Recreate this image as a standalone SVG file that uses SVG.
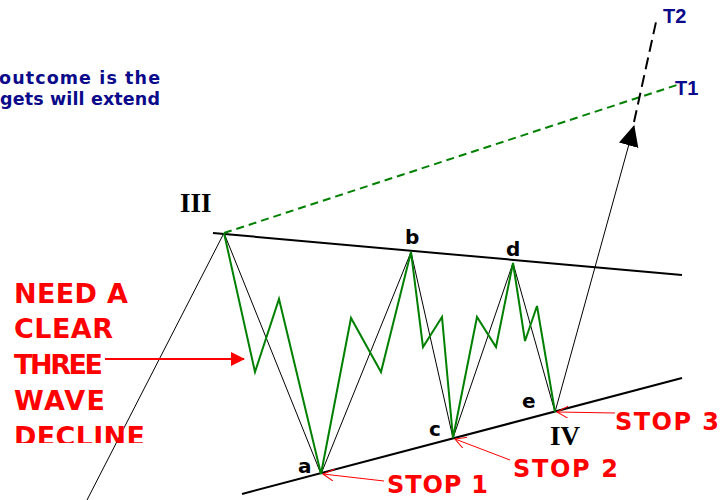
<svg xmlns="http://www.w3.org/2000/svg" width="724" height="500" viewBox="0 0 724 500">
<style>
.thin{fill:none;stroke:#000;stroke-width:1}
.chan{fill:none;stroke:#000;stroke-width:2}
.grn{fill:none;stroke:#008000;stroke-width:2;stroke-linejoin:miter}
.red{font-family:"DejaVu Sans","Liberation Sans",sans-serif;font-weight:bold;fill:#ff0000}
.blue{font-family:"DejaVu Sans","Liberation Sans",sans-serif;font-weight:bold;fill:#0a0a8a}
.tgt{font-family:"Liberation Sans",Arial,sans-serif;font-weight:bold;fill:#0a0a8a;font-size:20px}
.lbl{font-family:"DejaVu Sans","Liberation Sans",sans-serif;font-weight:bold;fill:#000;font-size:20px}
.rom{font-family:"Liberation Serif","Times New Roman",serif;font-weight:bold;fill:#000;font-size:27px}
.rline{fill:none;stroke:#ff0000;stroke-width:1}
</style>
<defs>
<marker id="openR" markerWidth="14" markerHeight="14" refX="11" refY="6" orient="auto" markerUnits="userSpaceOnUse"><path d="M0,0 L11,6 L0,12" fill="none" stroke="#ff0000" stroke-width="1"/></marker>
<marker id="fillR" markerWidth="16" markerHeight="16" refX="13" refY="7" orient="auto" markerUnits="userSpaceOnUse"><path d="M0,0 L14,7 L0,14 z" fill="#ff0000"/></marker>
<marker id="fillK" markerWidth="24" markerHeight="24" refX="20" refY="10" orient="auto" markerUnits="userSpaceOnUse"><path d="M0,0 L21,10 L0,20 z" fill="#000"/></marker>
<clipPath id="clipDecl"><rect x="0" y="400" width="200" height="43"/></clipPath>
</defs>
<rect width="724" height="500" fill="#fff"/>

<g id="connectors">
<line class="thin" x1="87" y1="500" x2="224" y2="233"/>
<line class="chan" x1="213" y1="233" x2="682" y2="275"/>
<line class="chan" x1="242" y1="494" x2="682" y2="378"/>
<line x1="224" y1="233" x2="680" y2="84" stroke="#008000" stroke-width="2" stroke-dasharray="8,5"/>
<polyline class="thin" points="224,233 321,474 411,252 453,438 513,263 555,412"/>
<line class="thin" x1="555" y1="412" x2="634" y2="126" marker-end="url(#fillK)"/>
<line x1="634" y1="122" x2="656" y2="22" stroke="#000" stroke-width="2" stroke-dasharray="12,6"/>
<polyline class="grn" points="224,233 255,372 279,299 321,474 351,318 381,372 411,252 423,347 442,317 453,438 477,317 496,347 513,263 525,341 537,306 555,412"/>
<line x1="105" y1="359" x2="244" y2="359" stroke="#ff0000" stroke-width="2" marker-end="url(#fillR)"/>
<line class="rline" x1="384" y1="481" x2="323" y2="474" marker-end="url(#openR)"/>
<line class="rline" x1="510" y1="460" x2="455" y2="439" marker-end="url(#openR)"/>
<line class="rline" x1="615" y1="413" x2="557" y2="412" marker-end="url(#openR)"/>
</g>

<g id="note">
<text class="blue" font-size="17.5" x="-1" y="84" textLength="161" lengthAdjust="spacing">outcome is the</text>
<text class="blue" font-size="17.5" x="0" y="105" textLength="160" lengthAdjust="spacing">gets will extend</text>
</g>

<g id="targets">
<text class="tgt" x="663" y="23">T2</text>
<text class="tgt" x="675" y="95">T1</text>
</g>

<g id="need-text">
<text class="red" font-size="27" x="14" y="303" textLength="114" lengthAdjust="spacing">NEED A</text>
<text class="red" font-size="27" x="14" y="338" textLength="99" lengthAdjust="spacing">CLEAR</text>
<text class="red" font-size="27" x="14" y="374" textLength="89" lengthAdjust="spacing">THREE</text>
<text class="red" font-size="27" x="14" y="410" textLength="91" lengthAdjust="spacing">WAVE</text>
<text class="red" font-size="27" x="14" y="446" textLength="131" lengthAdjust="spacing" clip-path="url(#clipDecl)">DECLINE</text>
</g>

<g id="wave-III"><text class="rom" x="180" y="212">III</text></g>
<g id="wave-IV"><text class="rom" x="550" y="445">IV</text></g>
<g id="point-a"><text class="lbl" x="298" y="473">a</text></g>
<g id="point-b"><text class="lbl" x="405" y="244">b</text></g>
<g id="point-c"><text class="lbl" x="429" y="436">c</text></g>
<g id="point-d"><text class="lbl" x="506" y="256">d</text></g>
<g id="point-e"><text class="lbl" x="522" y="408">e</text></g>

<g id="stop1"><text class="red" font-size="24" x="387" y="493" textLength="101" lengthAdjust="spacing">STOP 1</text></g>
<g id="stop2"><text class="red" font-size="24" x="513" y="477" textLength="105" lengthAdjust="spacing">STOP 2</text></g>
<g id="stop3"><text class="red" font-size="24" x="615" y="430" textLength="104" lengthAdjust="spacing">STOP 3</text></g>
</svg>
